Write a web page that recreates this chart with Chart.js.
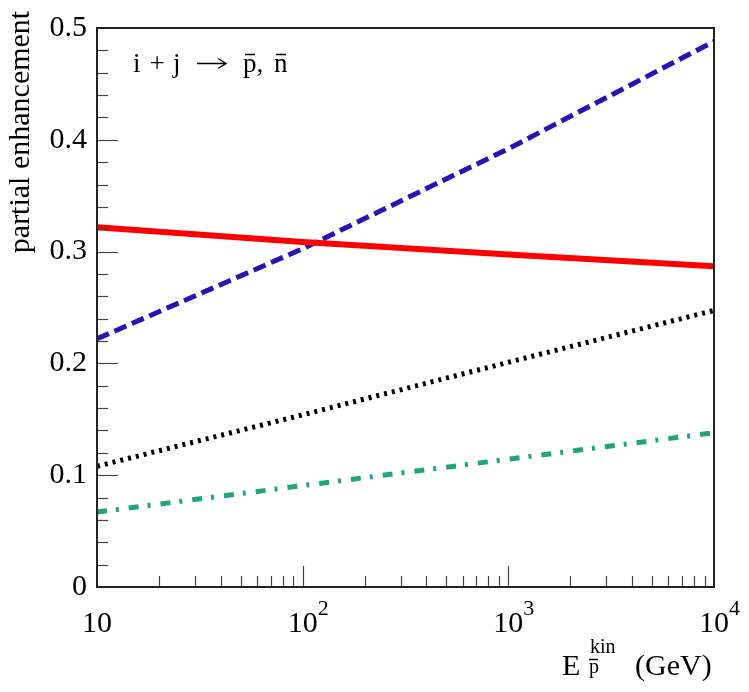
<!DOCTYPE html>
<html>
<head>
<meta charset="utf-8">
<script src="https://cdn.jsdelivr.net/npm/chart.js@4"></script>
<style>
  html, body { margin: 0; background: #fff; }
  canvas { display: block; }
</style>
</head>
<body>
<canvas id="enhChart" width="749" height="692"></canvas>
<script>
// kinetic energy (GeV), log axis
const energies = [10, 100, 1000, 10000];

// partial enhancement contributions
const redSolid = [0.3217, 0.3086, 0.2974, 0.287];
const blueDashed = [0.222, 0.3026, 0.392, 0.488];
const blackDotted = [0.108, 0.154, 0.201, 0.2474];
const greenDashDot = [0.067, 0.0907, 0.1143, 0.138];

// axis ticks
const xDecades = [10, 100, 1000, 10000];
const xDecadeExp = ["", "2", "3", "4"];
const yMajorLabels = ["0", "0.1", "0.2", "0.3", "0.4", "0.5"];

const FONT = '"Liberation Serif", "DejaVu Serif", serif';

function toPoints(values) {
    return energies.map((e, i) => ({ x: e, y: values[i] }));
}

/** frame, inside tick marks, x labels with exponents, titles */
const frameAndLabels = {
    id: "frameAndLabels",
    afterDraw(chart) {
        const { ctx, chartArea: a, scales } = chart;
        const x = scales.x;
        const y = scales.y;

        ctx.save();
        ctx.strokeStyle = "#444";
        ctx.lineWidth = 1.2;

        y.ticks.forEach((t) => {
            const r = Math.round(t.value * 100);
            if (r <= 0 || r >= 50) return;
            const py = Math.round(y.getPixelForValue(t.value)) + 0.5;
            const len = r % 10 === 0 ? 21 : 11;
            ctx.beginPath();
            ctx.moveTo(a.left, py);
            ctx.lineTo(a.left + len, py);
            ctx.stroke();
        });

        x.ticks.forEach((t) => {
            if (t.value <= 10 || t.value >= 10000) return;
            const px = Math.round(x.getPixelForValue(t.value)) + 0.5;
            const lg = Math.log10(t.value);
            const len = Math.abs(lg - Math.round(lg)) < 1e-6 ? 21 : 11;
            ctx.beginPath();
            ctx.moveTo(px, a.bottom);
            ctx.lineTo(px, a.bottom - len);
            ctx.stroke();
        });

        ctx.strokeStyle = "#222";
        ctx.lineWidth = 2;
        ctx.strokeRect(a.left, a.top, a.right - a.left, a.bottom - a.top);

        // x tick labels 10, 10^2 ...
        ctx.fillStyle = "#000";
        ctx.textBaseline = "alphabetic";
        xDecades.forEach((d, i) => {
            const px = x.getPixelForValue(d);
            ctx.font = "30px " + FONT;
            ctx.textAlign = "center";
            ctx.fillText("10", px, 632);
            if (xDecadeExp[i]) {
                ctx.font = "22px " + FONT;
                ctx.textAlign = "left";
                ctx.fillText(xDecadeExp[i], px + 15, 615);
            }
        });

        // x title: E_pbar^kin (GeV)
        ctx.textAlign = "left";
        ctx.font = "30px " + FONT;
        ctx.fillText("E", 562, 675);
        ctx.fillText("(GeV)", 635, 675);
        ctx.font = "20px " + FONT;
        ctx.fillText("kin", 590, 653);
        ctx.fillText("p", 589, 673);
        ctx.lineWidth = 1.5;
        ctx.strokeStyle = "#000";
        ctx.beginPath();
        ctx.moveTo(589, 659.5);
        ctx.lineTo(598, 659.5);
        ctx.stroke();

        // annotation  i + j -> pbar, nbar
        ctx.font = "27px " + FONT;
        ctx.fillText("i", 133, 72);
        ctx.textAlign = "center";
        ctx.fillText("+", 157, 72);
        ctx.textAlign = "left";
        ctx.fillText("j", 173, 72);
        ctx.fillText("p,", 243, 72);
        ctx.fillText("n", 274, 72);
        ctx.lineWidth = 1.4;
        ctx.beginPath();
        ctx.moveTo(245, 54.5);
        ctx.lineTo(255, 54.5);
        ctx.moveTo(276, 54.5);
        ctx.lineTo(286, 54.5);
        // arrow
        ctx.moveTo(197, 63.5);
        ctx.lineTo(225, 63.5);
        ctx.moveTo(218, 58.5);
        ctx.lineTo(226, 63.5);
        ctx.lineTo(218, 68.5);
        ctx.stroke();

        // y title
        ctx.translate(29, 132);
        ctx.rotate(-Math.PI / 2);
        ctx.textAlign = "center";
        ctx.font = "30px " + FONT;
        ctx.fillText("partial enhancement", 0, 0);

        ctx.restore();
    }
};

new Chart(document.getElementById("enhChart").getContext("2d"), {
    type: "line",
    data: {
        datasets: [
            {
                label: "red",
                data: toPoints(redSolid),
                borderColor: "#ff0000",
                borderWidth: 6,
                pointRadius: 0,
                tension: 0,
                fill: false
            },
            {
                label: "blue",
                data: toPoints(blueDashed),
                borderColor: "#2b12b3",
                borderWidth: 5,
                borderDash: [13, 6],
                pointRadius: 0,
                tension: 0,
                fill: false
            },
            {
                label: "black",
                data: toPoints(blackDotted),
                borderColor: "#000000",
                borderWidth: 5,
                borderDash: [3, 5],
                pointRadius: 0,
                tension: 0,
                fill: false
            },
            {
                label: "green",
                data: toPoints(greenDashDot),
                borderColor: "#20a676",
                borderWidth: 5,
                borderDash: [10, 9, 3, 10],
                pointRadius: 0,
                tension: 0,
                fill: false
            }
        ]
    },
    options: {
        responsive: false,
        animation: false,
        events: [],
        layout: {
            autoPadding: false,
            padding: { left: 0, right: 35, top: 15, bottom: 0 }
        },
        plugins: {
            legend: { display: false },
            tooltip: { enabled: false }
        },
        scales: {
            x: {
                type: "logarithmic",
                min: 10,
                max: 10000,
                grid: { display: false, drawTicks: false },
                border: { display: false },
                ticks: { display: false },
                afterBuildTicks(scale) {
                    const vals = [];
                    xDecades.slice(0, -1).forEach((d) => {
                        for (let k = 1; k <= 9; k++) vals.push(d * k);
                    });
                    vals.push(xDecades[xDecades.length - 1]);
                    scale.ticks = vals.map((v) => ({ value: v }));
                },
                afterFit(scale) {
                    scale.height = 105;
                }
            },
            y: {
                min: 0,
                max: 0.5,
                grid: { display: false, drawTicks: false },
                border: { display: false },
                ticks: {
                    stepSize: 0.02,
                    autoSkip: false,
                    padding: 10,
                    color: "#000",
                    font: { family: FONT, size: 30 },
                    callback(v) {
                        const r = Math.round(v * 100);
                        return r % 10 === 0 ? yMajorLabels[r / 10] : "";
                    }
                },
                afterFit(scale) {
                    scale.width = 97;
                }
            }
        }
    },
    plugins: [frameAndLabels]
});
</script>
</body>
</html>
